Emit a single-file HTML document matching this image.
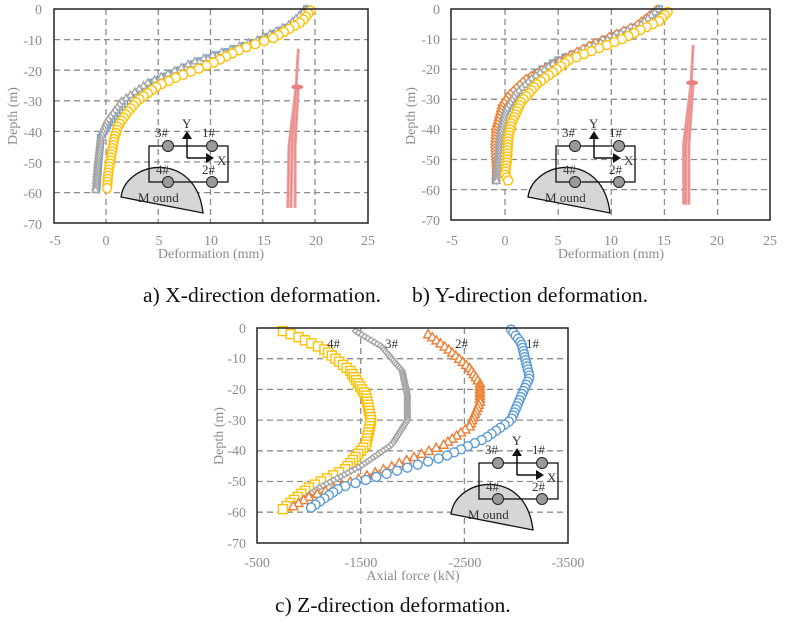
<!DOCTYPE html>
<html><head><meta charset="utf-8"><style>
html,body{margin:0;padding:0;background:#fff}
svg{display:block}
.t{font-family:"Liberation Serif",serif;fill:#8c8c8c;font-size:14px}
.cap{font-family:"Liberation Serif",serif;fill:#111;font-size:21.6px}
.in{font-family:"Liberation Serif",serif;fill:#333;font-size:13px}
.g{stroke:#8c8c8c;stroke-width:1.3;stroke-dasharray:6,4;fill:none}
</style></head><body>
<svg id="s" width="800" height="625" viewBox="0 0 800 625" xmlns="http://www.w3.org/2000/svg">
<defs>
<g id="inset">
<path d="M121,197 C126,160 196,150 203,213 Z" fill="#d6d6d6" stroke="#111" stroke-width="1.3"/>
<rect x="149" y="146" width="79" height="36" fill="none" stroke="#111" stroke-width="1.3"/>
<circle cx="168" cy="146" r="5.5" fill="#9a9a9a" stroke="#222"/>
<circle cx="212" cy="146" r="5.5" fill="#9a9a9a" stroke="#222"/>
<circle cx="168" cy="182" r="5.5" fill="#9a9a9a" stroke="#222"/>
<circle cx="212" cy="182" r="5.5" fill="#9a9a9a" stroke="#222"/>
<path d="M187,158 V137 M187,158 H207" stroke="#111" stroke-width="1.5" fill="none"/>
<path d="M182,139 L187,131 L192,139 Z M206,153 L214,158 L206,163 Z" fill="#111"/>
<text class="in" x="155" y="137">3#</text><text class="in" x="202" y="137">1#</text>
<text class="in" x="182" y="128">Y</text><text class="in" x="217" y="165">X</text>
<text class="in" x="156" y="174">4#</text><text class="in" x="202" y="174">2#</text>
<text class="in" x="138" y="202" font-size="14.5">M ound</text>
</g>
</defs>
<g id="A"></g><g id="B"></g><g id="C"></g>
<!-- chart a -->
<rect x="54" y="9" width="314" height="214" fill="none" stroke="#222" stroke-width="1.5"/>
<g class="t" text-anchor="end">
<text x="42" y="14">0</text><text x="42" y="45">-10</text><text x="42" y="76">-20</text><text x="42" y="106">-30</text><text x="42" y="137">-40</text><text x="42" y="168">-50</text><text x="42" y="198">-60</text><text x="42" y="229">-70</text>
</g>
<g class="t" text-anchor="middle">
<text x="55" y="245">-5</text><text x="106" y="245">0</text><text x="159" y="245">5</text><text x="211" y="245">10</text><text x="264" y="245">15</text><text x="316" y="245">20</text><text x="368" y="245">25</text>
<text x="211" y="258">Deformation (mm)</text>
<text transform="translate(17,116) rotate(-90)">Depth (m)</text>
</g>
<use href="#inset"/>
<!-- chart b -->
<rect x="451" y="9" width="319" height="211" fill="none" stroke="#222" stroke-width="1.5"/>
<g class="t" text-anchor="end">
<text x="440" y="14">0</text><text x="440" y="44">-10</text><text x="440" y="74">-20</text><text x="440" y="104">-30</text><text x="440" y="134">-40</text><text x="440" y="165">-50</text><text x="440" y="195">-60</text><text x="440" y="225">-70</text>
</g>
<g class="t" text-anchor="middle">
<text x="452" y="245">-5</text><text x="505" y="245">0</text><text x="558" y="245">5</text><text x="611" y="245">10</text><text x="664" y="245">15</text><text x="717" y="245">20</text><text x="770" y="245">25</text>
<text x="611" y="258">Deformation (mm)</text>
<text transform="translate(415,116) rotate(-90)">Depth (m)</text>
</g>
<use href="#inset" transform="translate(407,0)"/>
<!-- chart c -->
<rect x="257" y="328" width="311" height="215" fill="none" stroke="#222" stroke-width="1.5"/>
<g class="t" text-anchor="end">
<text x="246" y="333">0</text><text x="246" y="363">-10</text><text x="246" y="394">-20</text><text x="246" y="425">-30</text><text x="246" y="455">-40</text><text x="246" y="486">-50</text><text x="246" y="517">-60</text><text x="246" y="548">-70</text>
</g>
<g class="t" text-anchor="middle">
<text x="257" y="567">-500</text><text x="361" y="567">-1500</text><text x="465" y="567">-2500</text><text x="568" y="567">-3500</text>
<text x="413" y="580">Axial  force (kN)</text>
<text transform="translate(223,436) rotate(-90)">Depth (m)</text>
</g>
<g class="in" font-size="14"><text x="327" y="348">4#</text><text x="385" y="348">3#</text><text x="455" y="348">2#</text><text x="526" y="348">1#</text></g>
<use href="#inset" transform="translate(330,317)"/>
<g class="cap">
<text x="143" y="302">a) X-direction deformation.</text>
<text x="412" y="302">b) Y-direction deformation.</text>
<text x="275" y="612">c) Z-direction deformation.</text>
</g>
</svg>
<script>
var NS="http://www.w3.org/2000/svg";
function el(p,n,a){var e=document.createElementNS(NS,n);for(var k in a)e.setAttribute(k,a[k]);p.appendChild(e);return e;}
function interp(pts,d){for(var i=0;i<pts.length-1;i++){var a=pts[i],b=pts[i+1];if((d<=a[1]&&d>=b[1])){var t=(a[1]-d)/(a[1]-b[1]||1);return a[0]+t*(b[0]-a[0]);}}return pts[pts.length-1][0];}
function chart(g,X,Y,x0,x1,y0,y1,vlines,hlines){
 vlines.forEach(function(v){el(g,"line",{x1:X(v),x2:X(v),y1:y0,y2:y1,"class":"g"})});
 hlines.forEach(function(h){el(g,"line",{x1:x0,x2:x1,y1:Y(h),y2:Y(h),"class":"g"})});
}
function series(g,X,Y,pts,type,col,step,sz){
 var top=pts[0][1],bot=pts[pts.length-1][1];
 var path="";
 for(var d=top;d>=bot-0.01;d-=step){path+=(path?"L":"M")+X(interp(pts,d)).toFixed(1)+","+Y(d).toFixed(1);}
 el(g,"path",{d:path,fill:"none",stroke:col,"stroke-width":1.2});
 for(var d=top;d>=bot-0.01;d-=step){var x=X(interp(pts,d)),y=Y(d);mark(g,x,y,type,col,sz);}
}
function mark(g,x,y,type,col,s){
 var a={fill:"#fff",stroke:col,"stroke-width":1.4};
 if(type=="o"){a.cx=x;a.cy=y;a.r=s;el(g,"circle",a);}
 else if(type=="s"){a.x=x-s;a.y=y-s;a.width=2*s;a.height=2*s;el(g,"rect",a);}
 else if(type=="t"){a.points=(x-s)+","+(y+s*0.8)+" "+(x+s)+","+(y+s*0.8)+" "+x+","+(y-s);el(g,"polygon",a);}
 else if(type=="d"){a.points=(x-s)+","+y+" "+x+","+(y-s)+" "+(x+s)+","+y+" "+x+","+(y+s);el(g,"polygon",a);}
}
function pinks(g,X,Y,lines,dot){
 lines.forEach(function(L){var d="";L.forEach(function(p,i){d+=(i?"L":"M")+X(p[0]).toFixed(1)+","+Y(p[1]).toFixed(1);});
  el(g,"path",{d:d,stroke:"#f0a0a0","stroke-width":3,fill:"none"});
  el(g,"path",{d:d,stroke:"#e07070","stroke-width":1,"stroke-dasharray":"1,1",fill:"none"});});
 el(g,"ellipse",{cx:X(dot[0]),cy:Y(dot[1]),rx:6,ry:2.5,fill:"#e88080"});
}
// chart a
var gA=document.getElementById("A");
var XA=function(v){return 106+v*10.45},YA=function(d){return 9-d*3.06};
chart(gA,XA,YA,54,368,9,223,[0,5,10,15,20],[-10,-20,-30,-40,-50,-60]);
series(gA,XA,YA,[[19.2,0],[18,-5],[15,-10],[9,-17],[4.5,-24],[2,-30],[0.3,-37],[-0.5,-42],[-0.7,-50],[-0.9,-59]],"s","#5b9bd5",1,3);
series(gA,XA,YA,[[19.2,0],[17.5,-5],[14.5,-10],[8.5,-17],[4,-24],[1.5,-30],[0,-37],[-0.5,-42],[-0.8,-50],[-1,-59]],"t","#a5a5a5",1,3.5);
series(gA,XA,YA,[[19.6,-0.5],[18.8,-4],[16,-9.5],[13,-13],[10,-18],[7,-22],[5,-25],[3,-30],[2,-34],[1.2,-38],[0.8,-42],[0.6,-46],[0.4,-50],[0.2,-54],[0.1,-58.5]],"o","#ffc000",1,4.5);
pinks(gA,XA,YA,[[[18.4,-13],[18.2,-25],[17.5,-45],[17.4,-65]],[[18.4,-25],[18.1,-45],[18.1,-65]],[[18.2,-25],[17.8,-45],[17.7,-65]]],[18.3,-25.5]);
// chart b
var gB=document.getElementById("B");
var XB=function(v){return 505+v*10.63},YB=function(d){return 9-d*3.01};
chart(gB,XB,YB,451,770,9,220,[0,5,10,15,20],[-10,-20,-30,-40,-50,-60]);
series(gB,XB,YB,[[14.5,0],[13,-5],[9,-11],[5,-17],[3,-21],[1.5,-26],[0.5,-31],[-0.5,-38],[-0.7,-45],[-0.9,-57]],"s","#5b9bd5",1,3);
series(gB,XB,YB,[[14.3,0],[12.5,-5],[8.5,-11],[4,-19],[2,-23],[0.5,-28],[-0.3,-32],[-0.9,-40],[-1,-45],[-0.8,-57]],"d","#ed7d31",1,3.5);
series(gB,XB,YB,[[14.4,0],[12.8,-5],[9,-11],[4.5,-18],[2.5,-23],[1,-28],[0,-34],[-0.5,-42],[-0.7,-50],[-0.8,-57]],"t","#a5a5a5",1,3.5);
series(gB,XB,YB,[[15.3,-1],[14.5,-4],[11,-10],[6,-17],[3,-25],[1.5,-31],[0.6,-38],[0.3,-43],[0.2,-50],[0,-55],[0.3,-57]],"o","#ffc000",1,4.5);
pinks(gB,XB,YB,[[[17.7,-12],[17.5,-25],[16.8,-45],[16.8,-65]],[[17.7,-25],[17.3,-45],[17.3,-65]],[[17.6,-25],[17.0,-45],[17.0,-65]]],[17.6,-24.5]);
// chart c
var gC=document.getElementById("C");
var XC=function(v){return 257+(v-500)*0.1037},YC=function(d){return 328-d*3.07};
chart(gC,XC,YC,257,568,328,543,[1500,2500],[-10,-20,-30,-40,-50,-60]);
series(gC,XC,YC,[[750,-1],[900,-3],[1150,-7],[1400,-14],[1550,-22],[1600,-30],[1550,-38],[1350,-46],[1000,-52],[750,-59]],"s","#ffc000",1,4.5);
series(gC,XC,YC,[[1450,-1],[1700,-6],[1900,-14],[1950,-22],[1950,-30],[1800,-38],[1500,-45],[1100,-52],[900,-57]],"d","#a5a5a5",0.6,3);
series(gC,XC,YC,[[2150,-2],[2350,-7],[2550,-13],[2650,-18],[2650,-24],[2550,-32],[2300,-38],[1800,-45],[1400,-50],[1000,-55],[850,-58]],"t","#ed7d31",1,4.5);
series(gC,XC,YC,[[2950,-0.5],[3050,-5],[3100,-12],[3130,-16],[3050,-22],[2950,-30],[2700,-36],[2300,-42],[1700,-48],[1300,-52],[1000,-59]],"o","#5b9bd5",1,4.5);
</script>
</body></html>
